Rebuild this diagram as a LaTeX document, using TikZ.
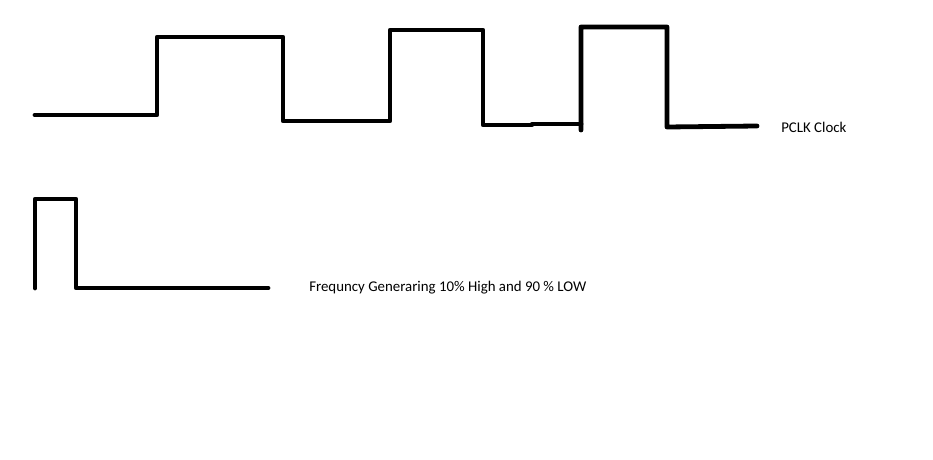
\documentclass[tikz,border=0pt]{standalone}
\usepackage{fontspec}
\setmainfont{Carlito}
\usetikzlibrary{positioning}

\begin{document}
\begin{tikzpicture}[
  x=0.75pt, y=-0.75pt,
  font=\fontsize{11.15pt}{13pt}\selectfont,
  wave/.style={line width=3.6pt, line cap=round, line join=round},
  lbl/.style={anchor=west, inner sep=0pt}
]
\useasboundingbox (0,0) rectangle (933,460);

% PCLK clock
\draw[wave] (35,115) -- (157,115) -- (157,37) -- (283,37) -- (283,121)
  -- (390,121) -- (390,30) -- (483,30) -- (483,125) -- (532,125)
  -- (532,124) -- (581,124);
\draw[wave] (581,130) -- (581,27) -- (667,27) -- (667,127) -- (757,126);
\node[lbl] (pclk) at (781,127) {PCLK Clock};

% 10% high / 90% low
\draw[wave] (35,288) -- (35,199) -- (76,199) -- (76,288) -- (268,288);
\node[lbl] (gen) at (309,288) {Frequncy Generaring 10\% High and 90 \% LOW};
\end{tikzpicture}
\end{document}
